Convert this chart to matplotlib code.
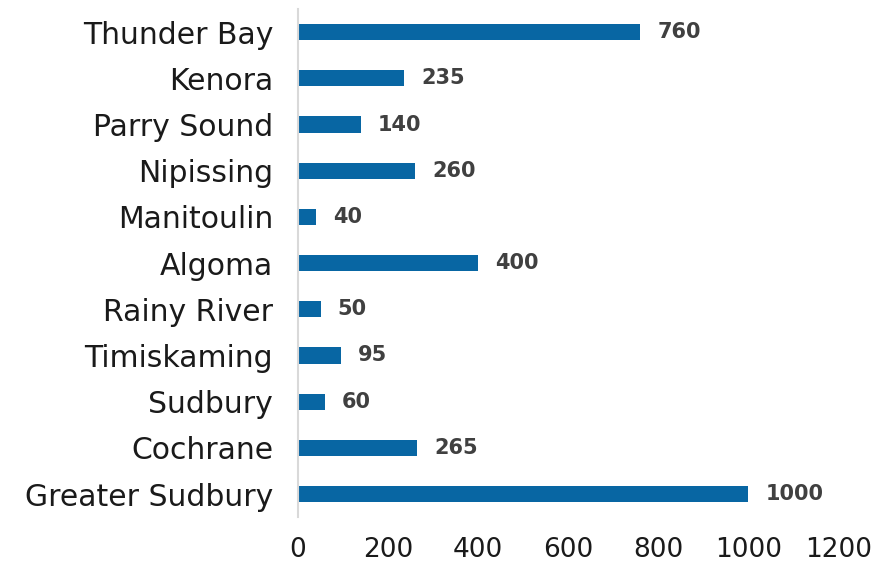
import matplotlib
matplotlib.use('Agg')
import matplotlib.pyplot as plt

# dados (de baixo para cima no gráfico)
distritos = ["Greater Sudbury", "Cochrane", "Sudbury", "Timiskaming", "Rainy River",
             "Algoma", "Manitoulin", "Nipissing", "Parry Sound", "Kenora", "Thunder Bay"]
valores = [1000, 265, 60, 95, 50, 400, 40, 260, 140, 235, 760]
ticks_x = [0, 200, 400, 600, 800, 1000, 1200]

plt.rcParams['font.family'] = ['DejaVu Sans']

fig = plt.figure(figsize=(8.74, 5.67), dpi=100)
ax = fig.add_axes([0.341, 0.088, 0.618, 0.896])

y = range(len(distritos))
ax.barh(y, valores, height=0.35, color='#0866a3')

for i, v in enumerate(valores):
    ax.text(v + 38, i, str(v), va='center', ha='left', fontsize=15,
            fontweight='bold', color='#404040')

ax.set_xlim(0, 1200)
ax.set_ylim(-0.5, len(distritos) - 0.5)
ax.set_yticks(list(y))
ax.set_yticklabels(distritos, fontsize=21.5, color='#1a1a1a')
ax.set_xticks(ticks_x)
ax.set_xticklabels([str(t) for t in ticks_x], fontsize=19, color='#1a1a1a')
ax.tick_params(axis='both', length=0)
ax.tick_params(axis='y', pad=18)
ax.tick_params(axis='x', pad=14)

for s in ['top', 'right', 'bottom']:
    ax.spines[s].set_visible(False)
ax.spines['left'].set_color('#d9d9d9')
ax.spines['left'].set_linewidth(1.5)

plt.savefig('out.png', dpi=100)
